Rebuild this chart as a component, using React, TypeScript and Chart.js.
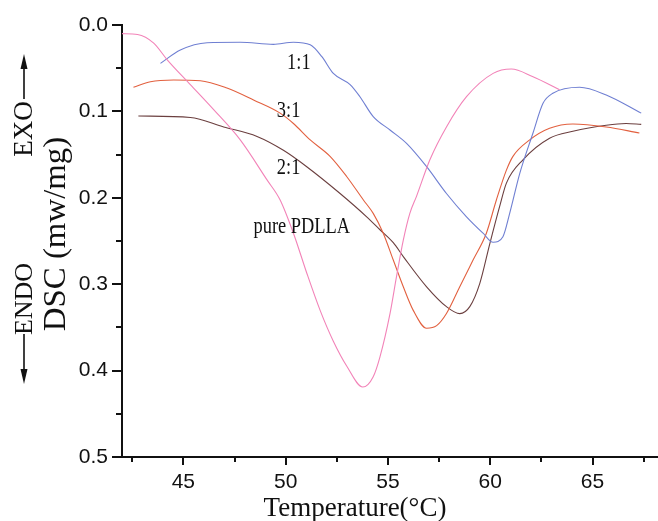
import React, { useEffect, useRef } from 'react';
import { Chart, registerables } from 'chart.js';

Chart.register(...registerables);

// ---- data (Temperature °C, DSC mw/mg) ----
const pureT = [42.0, 42.76, 43.55, 44.2, 45.34, 46.48, 47.78, 49.08, 49.73, 50.38, 51.03, 51.68, 52.33, 52.99, 53.77, 54.28, 54.61, 55.1, 55.42, 55.75, 56.07, 56.4, 57.05, 57.86, 58.84, 60.14, 61.03, 62.09, 63.39];
const pureD = [0.01, 0.011, 0.021, 0.04, 0.069, 0.098, 0.133, 0.179, 0.2025, 0.241, 0.287, 0.33, 0.366, 0.395, 0.419, 0.407, 0.384, 0.334, 0.291, 0.249, 0.218, 0.198, 0.156, 0.118, 0.083, 0.056, 0.051, 0.06, 0.075];

const r11T = [43.88, 44.85, 46.16, 47.78, 49.4, 50.38, 51.2, 51.77, 52.33, 53.15, 53.63, 54.28, 55.1, 55.91, 56.89, 57.86, 58.84, 59.65, 60.14, 60.62, 60.95, 61.44, 62.09, 62.58, 63.06, 64.37, 65.67, 67.38];
const r11D = [0.0444, 0.029, 0.0205, 0.02, 0.0224, 0.02, 0.023, 0.0367, 0.056, 0.069, 0.083, 0.106, 0.1215, 0.137, 0.164, 0.195, 0.222, 0.241, 0.2515, 0.245, 0.218, 0.172, 0.125, 0.0906, 0.079, 0.072, 0.081, 0.102];

const r31T = [42.56, 43.39, 44.53, 45.83, 47.13, 48.43, 49.73, 50.38, 51.2, 52.17, 52.99, 53.8, 54.28, 54.77, 55.26, 55.75, 56.23, 56.89, 57.38, 57.86, 58.51, 59.16, 59.81, 60.3, 60.79, 61.11, 61.93, 62.9, 64.04, 65.67, 67.29];
const r31D = [0.072, 0.0656, 0.0637, 0.0645, 0.073, 0.0868, 0.102, 0.114, 0.133, 0.152, 0.1756, 0.2025, 0.218, 0.241, 0.272, 0.303, 0.33, 0.351, 0.348, 0.334, 0.303, 0.272, 0.241, 0.2025, 0.168, 0.152, 0.133, 0.1196, 0.1146, 0.118, 0.125];

const r21T = [42.8, 45.34, 46.97, 48.6, 49.89, 51.03, 52.66, 53.96, 54.61, 55.26, 55.75, 56.89, 57.86, 58.51, 59.0, 59.49, 59.98, 60.46, 60.79, 61.6, 62.9, 64.04, 65.67, 66.64, 67.38];
const r21D = [0.1053, 0.107, 0.118, 0.129, 0.145, 0.164, 0.195, 0.222, 0.237, 0.252, 0.268, 0.303, 0.326, 0.334, 0.326, 0.299, 0.253, 0.21, 0.183, 0.156, 0.131, 0.123, 0.116, 0.114, 0.115];

const seriesNames = ['pure PDLLA', '1:1', '3:1', '2:1'];

const xMajorTicks = [45, 50, 55, 60, 65];
const xMinorTicks = [42.5, 47.5, 52.5, 57.5, 62.5, 67.5];
const yMajorTicks = [0.0, 0.1, 0.2, 0.3, 0.4, 0.5];
const yMinorTicks = [0.05, 0.15, 0.25, 0.35, 0.45];

const annoText = ['1:1', '3:1', '2:1', 'pure PDLLA'];
const annoT = [50.07, 49.57, 49.57, 48.43];
const annoD = [0.0509, 0.106, 0.1725, 0.241];

const SERIF = '"Liberation Serif", "Times New Roman", "DejaVu Serif", serif';
const SANS = '"Liberation Sans", Arial, "DejaVu Sans", sans-serif';

const toPts = (t: number[], d: number[]) => t.map((v, i) => ({ x: v, y: d[i] }));

function drawText(
  ctx: CanvasRenderingContext2D,
  text: string,
  x: number,
  y: number,
  size: number,
  sx: number,
  angle: number,
  align: CanvasTextAlign,
  baseline: CanvasTextBaseline
) {
  ctx.save();
  ctx.translate(x, y);
  ctx.rotate(angle);
  ctx.scale(sx, 1);
  ctx.font = `${size}px ${SERIF}`;
  ctx.fillStyle = '#111';
  ctx.textAlign = align;
  ctx.textBaseline = baseline;
  ctx.fillText(text, 0, 0);
  ctx.restore();
}

const decorPlugin = {
  id: 'decor',
  afterDraw(chart: any) {
    const ctx: CanvasRenderingContext2D = chart.ctx;
    const xs = chart.scales.x;
    const ys = chart.scales.y;
    const area = chart.chartArea;
    ctx.save();
    ctx.strokeStyle = '#111';
    ctx.lineWidth = 2;
    const xt = (v: number, len: number) => {
      const px = Math.round(xs.getPixelForValue(v));
      ctx.beginPath();
      ctx.moveTo(px, area.bottom);
      ctx.lineTo(px, area.bottom + len);
      ctx.stroke();
    };
    xMajorTicks.forEach((v) => xt(v, 8));
    xMinorTicks.forEach((v) => xt(v, 5));
    const yt = (v: number, len: number) => {
      const py = Math.round(ys.getPixelForValue(v));
      ctx.beginPath();
      ctx.moveTo(area.left, py);
      ctx.lineTo(area.left - len, py);
      ctx.stroke();
    };
    yMajorTicks.forEach((v) => yt(v, 10));
    yMinorTicks.forEach((v) => yt(v, 6));
    ctx.restore();

    // curve labels
    annoText.forEach((t, i) => {
      drawText(ctx, t, xs.getPixelForValue(annoT[i]), ys.getPixelForValue(annoD[i]), 23, 0.8, 0, 'left', 'alphabetic');
    });

    // axis titles
    drawText(ctx, 'Temperature(\u00B0C)', 355, 516, 27, 1, 0, 'center', 'alphabetic');
    drawText(ctx, 'DSC (mw/mg)', 57, 234, 31, 1.06, -Math.PI / 2, 'center', 'middle');

    // EXO / ENDO with arrows
    drawText(ctx, 'EXO', 25, 129, 27, 1, -Math.PI / 2, 'center', 'middle');
    drawText(ctx, 'ENDO', 25, 299, 26, 1, -Math.PI / 2, 'center', 'middle');
    ctx.save();
    ctx.strokeStyle = '#111';
    ctx.fillStyle = '#111';
    ctx.lineWidth = 1.6;
    ctx.beginPath();
    ctx.moveTo(24, 99);
    ctx.lineTo(24, 66);
    ctx.moveTo(24, 334);
    ctx.lineTo(24, 372);
    ctx.stroke();
    ctx.beginPath();
    ctx.moveTo(24, 54);
    ctx.lineTo(20.5, 69);
    ctx.lineTo(27.5, 69);
    ctx.closePath();
    ctx.fill();
    ctx.beginPath();
    ctx.moveTo(24, 384);
    ctx.lineTo(20.5, 369);
    ctx.lineTo(27.5, 369);
    ctx.closePath();
    ctx.fill();
    ctx.restore();
  },
};

export default function App() {
  const ref = useRef<HTMLCanvasElement | null>(null);

  useEffect(() => {
    if (!ref.current) return;
    const mk = (label: string, t: number[], d: number[], color: string) => ({
      label,
      data: toPts(t, d),
      borderColor: color,
      backgroundColor: color,
      borderWidth: 1.1,
      pointRadius: 0,
      fill: false,
      cubicInterpolationMode: 'monotone' as const,
    });
    const chart = new Chart(ref.current, {
      type: 'line',
      data: {
        datasets: [
          mk(seriesNames[0], pureT, pureD, '#f283b8'),
          mk(seriesNames[1], r11T, r11D, '#6f7fd2'),
          mk(seriesNames[2], r31T, r31D, '#e2603f'),
          mk(seriesNames[3], r21T, r21D, '#6b3f3f'),
        ],
      },
      options: {
        animation: false,
        responsive: false,
        devicePixelRatio: 1,
        layout: { padding: { left: 0, right: 0, top: 25, bottom: 0 } },
        plugins: { legend: { display: false }, tooltip: { enabled: false } },
        scales: {
          x: {
            type: 'linear',
            min: 42,
            max: 68.2,
            position: 'bottom',
            afterBuildTicks: (s: any) => {
              s.ticks = xMajorTicks.map((v) => ({ value: v }));
            },
            afterFit: (s: any) => {
              s.height = 64;
            },
            grid: { display: false, drawTicks: true, tickLength: 8 },
            border: { display: true, color: '#111', width: 2 },
            ticks: {
              color: '#111',
              padding: 5,
              maxRotation: 0,
              autoSkip: false,
              font: { family: SANS, size: 21 },
              callback: (v: any) => String(v),
            },
          },
          y: {
            type: 'linear',
            min: 0,
            max: 0.5,
            reverse: true,
            afterBuildTicks: (s: any) => {
              s.ticks = yMajorTicks.map((v) => ({ value: v }));
            },
            afterFit: (s: any) => {
              s.width = 122;
            },
            grid: { display: false, drawTicks: true, tickLength: 10 },
            border: { display: true, color: '#111', width: 2 },
            ticks: {
              color: '#111',
              padding: 4,
              autoSkip: false,
              font: { family: SANS, size: 21 },
              callback: (v: any) => Number(v).toFixed(1),
            },
          },
        },
      },
      plugins: [decorPlugin],
    });
    return () => chart.destroy();
  }, []);

  return (
    <div style={{ position: 'absolute', left: 0, top: 0, width: 658, height: 521, background: '#fff' }}>
      <canvas ref={ref} width={658} height={521} style={{ width: 658, height: 521 }} />
    </div>
  );
}
